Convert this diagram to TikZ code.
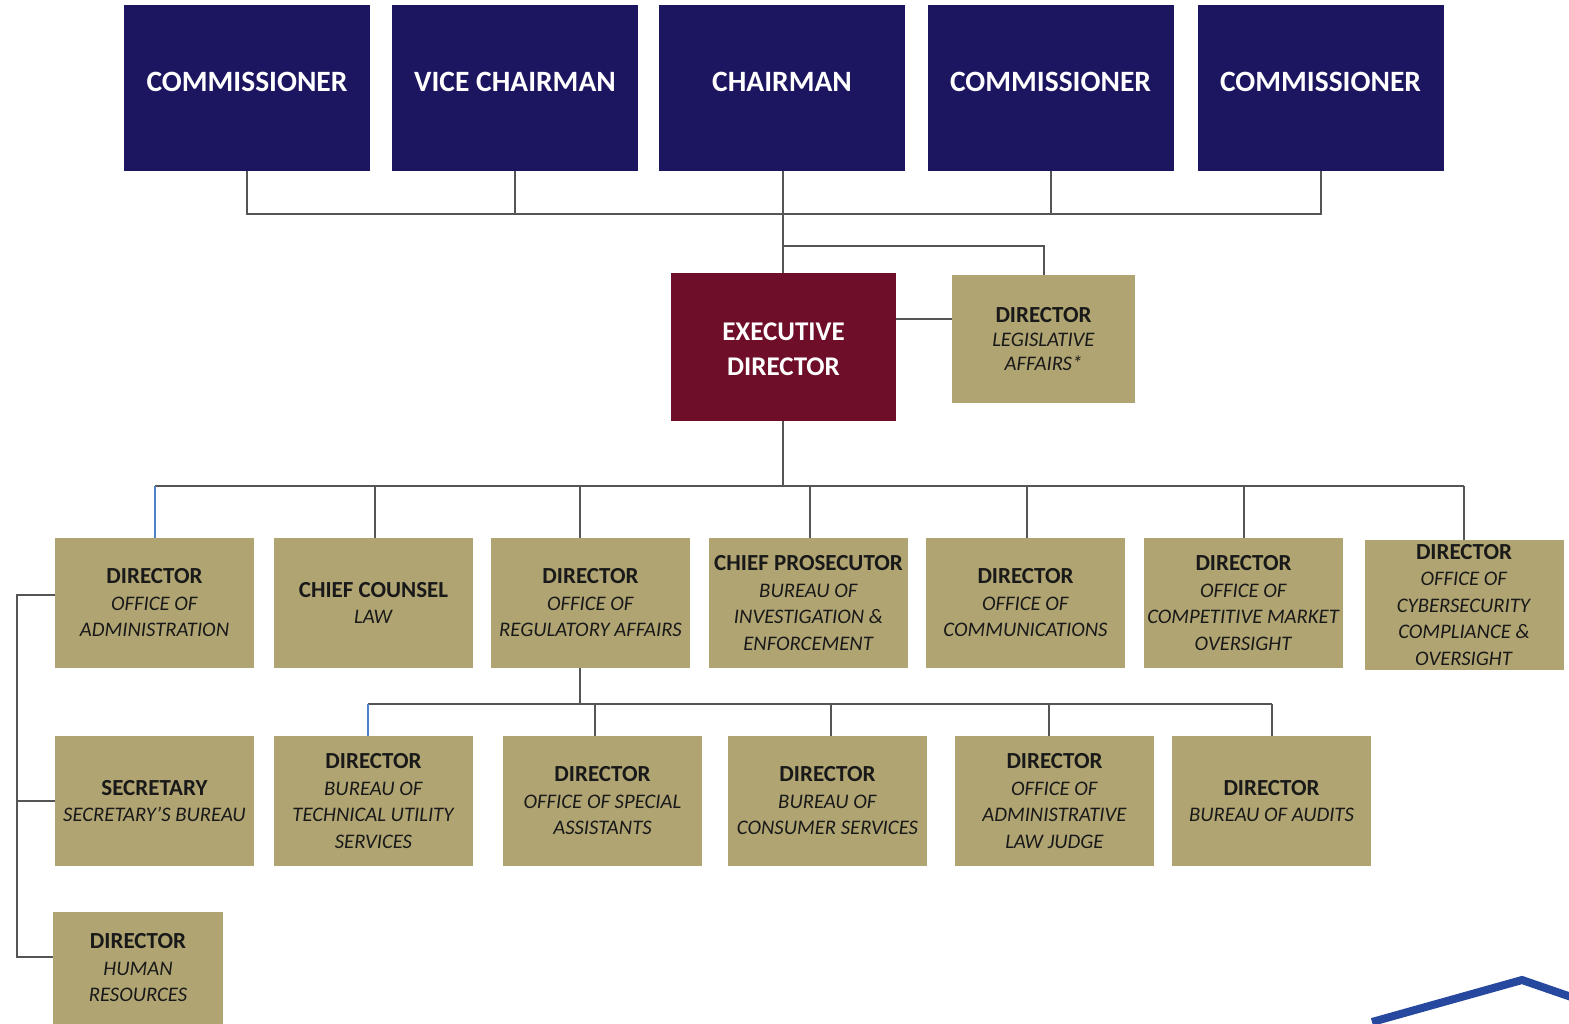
\documentclass[tikz,border=0pt]{standalone}
\usepackage{fontspec}
\setmainfont{Carlito}
\definecolor{navy}{RGB}{28,21,96}
\definecolor{maroon}{RGB}{111,14,41}
\definecolor{tan}{RGB}{176,165,114}
\definecolor{linegray}{RGB}{85,85,85}
\definecolor{lineblue}{RGB}{79,129,199}
\definecolor{logoblue}{RGB}{38,72,158}
\definecolor{boxtext}{RGB}{25,25,25}
\newcommand{\hd}[1]{{\fontsize{23}{26.5}\selectfont\bfseries #1}}
\newcommand{\sbt}[1]{\textit{#1}}
\begin{document}
\begin{tikzpicture}[x=1pt,y=-1pt,
  topbox/.style={fill=navy, text=white, minimum width=246, minimum height=166, inner sep=0,
    font=\fontsize{29.5}{34}\selectfont\bfseries},
  toptext/.style={text=white, inner sep=0, font=\fontsize{29.5}{34}\selectfont\bfseries},
  execbox/.style={fill=maroon, text=white, minimum width=225, minimum height=148, inner sep=0, align=center,
    font=\fontsize{27}{35}\selectfont\bfseries},
  tanbox/.style={fill=tan, text=boxtext, minimum width=199, minimum height=130, inner sep=0, align=center,
    font=\fontsize{20.7}{26.5}\selectfont},
  conn/.style={draw=linegray, line width=2},
  connb/.style={draw=lineblue, line width=2}]
\useasboundingbox (0,0) rectangle (1569,1023);
% top row
\node[topbox] (c1) at (247,88) {};
\node[topbox] (vc) at (515,88) {};
\node[topbox] (ch) at (782,88) {};
\node[topbox] (c2) at (1050.5,88) {};
\node[topbox] (c3) at (1320.5,88) {};
\node[toptext] (t1) at ([yshift=6]c1.center) {COMMISSIONER};
\node[toptext] (t2) at ([yshift=6]vc.center) {VICE CHAIRMAN};
\node[toptext] (t3) at ([yshift=6]ch.center) {CHAIRMAN};
\node[toptext] (t4) at ([yshift=6]c2.center) {COMMISSIONER};
\node[toptext] (t5) at ([yshift=6]c3.center) {COMMISSIONER};
% exec
\node[execbox] (ed) at (783.5,347) {};
\node[text=white, align=center, inner sep=0, font=\fontsize{27}{35}\selectfont\bfseries] (edt) at (783.5,349) {EXECUTIVE\\DIRECTOR};
\node[tanbox, minimum width=183, minimum height=128, font=\fontsize{20.7}{24}\selectfont] (leg) at (1043.5,339)
  {\hd{DIRECTOR}\\\sbt{LEGISLATIVE}\\\sbt{AFFAIRS*}};
% row 2
\node[tanbox] (adm) at (154.5,603) {\hd{DIRECTOR}\\\sbt{OFFICE OF}\\\sbt{ADMINISTRATION}};
\node[tanbox] (law) at (373.5,603) {\hd{CHIEF COUNSEL}\\\sbt{LAW}};
\node[tanbox] (reg) at (590.5,603) {\hd{DIRECTOR}\\\sbt{OFFICE OF}\\\sbt{REGULATORY AFFAIRS}};
\node[tanbox] (pros) at (808.5,603) {\hd{CHIEF PROSECUTOR}\\\sbt{BUREAU OF}\\\sbt{INVESTIGATION \&}\\\sbt{ENFORCEMENT}};
\node[tanbox] (com) at (1025.5,603) {\hd{DIRECTOR}\\\sbt{OFFICE OF}\\\sbt{COMMUNICATIONS}};
\node[tanbox] (cmo) at (1243.5,603) {\hd{DIRECTOR}\\\sbt{OFFICE OF}\\\sbt{COMPETITIVE MARKET}\\\sbt{OVERSIGHT}};
\node[tanbox] (cyb) at (1464,605) {\hd{DIRECTOR}\\\sbt{OFFICE OF}\\\sbt{CYBERSECURITY}\\\sbt{COMPLIANCE \&}\\\sbt{OVERSIGHT}};
% row 3
\node[tanbox] (sec) at (154.5,801) {\hd{SECRETARY}\\\sbt{SECRETARY'S BUREAU}};
\node[tanbox] (tus) at (373.5,801) {\hd{DIRECTOR}\\\sbt{BUREAU OF}\\\sbt{TECHNICAL UTILITY}\\\sbt{SERVICES}};
\node[tanbox] (spa) at (602.5,801) {\hd{DIRECTOR}\\\sbt{OFFICE OF SPECIAL}\\\sbt{ASSISTANTS}};
\node[tanbox] (cs) at (827.5,801) {\hd{DIRECTOR}\\\sbt{BUREAU OF}\\\sbt{CONSUMER SERVICES}};
\node[tanbox] (alj) at (1054.5,801) {\hd{DIRECTOR}\\\sbt{OFFICE OF}\\\sbt{ADMINISTRATIVE}\\\sbt{LAW JUDGE}};
\node[tanbox] (aud) at (1271.5,801) {\hd{DIRECTOR}\\\sbt{BUREAU OF AUDITS}};
% row 4
\node[tanbox, minimum width=170, minimum height=112] (hr) at (138,968) {\hd{DIRECTOR}\\\sbt{HUMAN}\\\sbt{RESOURCES}};
% connectors top
\coordinate (tl) at (247,214);
\coordinate (tr) at (1320.5,214);
\draw[conn] (c1.south) -- (tl) -- (tr) -- (c3.south);
\draw[conn] (vc.south) -- (vc.south |- tl);
\draw[conn] (c2.south) -- (c2.south |- tl);
\coordinate (cx) at (783,171);
\draw[conn] (cx) -- (cx |- ed.north);
\coordinate (lb) at (783,246);
\draw[conn] (lb) -| (leg.north);
\coordinate (lc) at (896,319);
\draw[conn] (lc) -- (lc -| leg.west);
% exec to row 2
\coordinate (b2) at (783,486);
\draw[conn] (b2 |- ed.south) -- (b2);
\coordinate (d1) at (155,486);
\coordinate (d2) at (375,486);
\coordinate (d3) at (580,486);
\coordinate (d4) at (810,486);
\coordinate (d5) at (1027,486);
\coordinate (d6) at (1244,486);
\coordinate (d7) at (1464,486);
\draw[conn] (d1) -- (d7);
\draw[connb] (d1) -- (d1 |- adm.north);
\draw[conn] (d2) -- (d2 |- law.north);
\draw[conn] (d3) -- (d3 |- reg.north);
\draw[conn] (d4) -- (d4 |- pros.north);
\draw[conn] (d5) -- (d5 |- com.north);
\draw[conn] (d6) -- (d6 |- cmo.north);
\draw[conn] (d7) -- (d7 |- cyb.north);
% row 3
\coordinate (e0) at (580,704);
\coordinate (e1) at (368,704);
\coordinate (e2) at (595,704);
\coordinate (e3) at (831,704);
\coordinate (e4) at (1049,704);
\coordinate (e5) at (1272,704);
\draw[conn] (e0 |- reg.south) -- (e0);
\draw[conn] (e1) -- (e5);
\draw[connb] (e1) -- (e1 |- tus.north);
\draw[conn] (e2) -- (e2 |- spa.north);
\draw[conn] (e3) -- (e3 |- cs.north);
\draw[conn] (e4) -- (e4 |- alj.north);
\draw[conn] (e5) -- (e5 |- aud.north);
% left spine
\coordinate (s1) at (17,595);
\coordinate (s3) at (17,957);
\draw[conn] (adm.west |- s1) -- (s1) -- (s3) -- (hr.west |- s3);
\draw[conn] (s1 |- sec.west) -- (sec.west);
% logo fragment
\draw[logoblue, line width=8] (1372,1022) -- (1522,980) -- (1580,1000);
\end{tikzpicture}
\end{document}
